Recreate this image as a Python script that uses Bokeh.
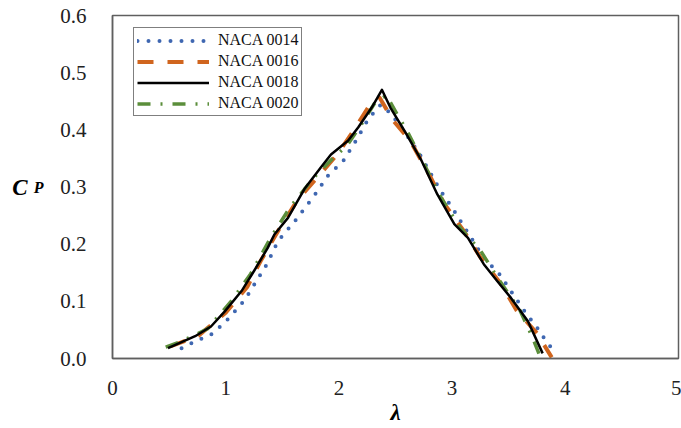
from bokeh.plotting import figure
from bokeh.models import (Range1d, FixedTicker, Legend, LegendItem, Title, LinearAxis,
                          CustomJSTickFormatter)
from bokeh.embed import file_html
from bokeh.resources import INLINE

# ---- data ----
lam14 = [0.61, 0.70, 0.89, 1.03, 1.17, 1.27, 1.37, 1.46, 1.61, 1.79, 1.90, 2.04, 2.15, 2.26, 2.37,
         2.45, 2.53, 2.70, 2.89, 3.01, 3.11, 3.28, 3.42, 3.54, 3.65, 3.77, 3.83, 3.89]
cp14 = [0.018, 0.027, 0.044, 0.071, 0.103, 0.135, 0.167, 0.205, 0.240, 0.287, 0.319, 0.346, 0.381, 0.419, 0.444,
        0.430, 0.410, 0.362, 0.296, 0.261, 0.229, 0.176, 0.147, 0.112, 0.080, 0.049, 0.030, 0.016]

lam16 = [0.51, 0.76, 1.00, 1.19, 1.31, 1.48, 1.63, 1.81, 1.99, 2.13, 2.28, 2.36,
         2.48, 2.63, 2.81, 2.93, 3.10, 3.25, 3.43, 3.57, 3.75, 3.88]
cp16 = [0.021, 0.040, 0.080, 0.125, 0.171, 0.229, 0.276, 0.317, 0.358, 0.399, 0.446, 0.456,
        0.416, 0.381, 0.317, 0.271, 0.224, 0.177, 0.131, 0.084, 0.044, 0.002]

lam18 = [0.49, 0.73, 0.87, 0.99, 1.14, 1.25, 1.37, 1.43, 1.55, 1.70, 1.84, 1.93, 2.08, 2.17, 2.29, 2.38,
         2.46, 2.58, 2.73, 2.87, 3.02, 3.14, 3.28, 3.40, 3.52, 3.67, 3.80]
cp18 = [0.018, 0.039, 0.056, 0.082, 0.118, 0.153, 0.193, 0.217, 0.246, 0.298, 0.334, 0.357, 0.381, 0.404, 0.439, 0.470,
        0.437, 0.398, 0.346, 0.287, 0.235, 0.211, 0.165, 0.135, 0.106, 0.065, 0.009]

lam20 = [0.47, 0.60, 0.84, 1.04, 1.22, 1.40, 1.57, 1.78, 1.94, 2.07, 2.22, 2.32, 2.42,
         2.53, 2.60, 2.75, 2.90, 3.07, 3.25, 3.40, 3.60, 3.71, 3.78]
cp20 = [0.020, 0.029, 0.052, 0.098, 0.148, 0.212, 0.265, 0.317, 0.349, 0.372, 0.416, 0.448, 0.460,
        0.422, 0.399, 0.341, 0.282, 0.229, 0.189, 0.142, 0.084, 0.037, 0.002]

series_names = ["NACA 0014", "NACA 0016", "NACA 0018", "NACA 0020"]
x_ticks = [0, 1, 2, 3, 4, 5]
y_ticks = [0.0, 0.1, 0.2, 0.3, 0.4, 0.5, 0.6]

SERIF = "Liberation Serif"

p = figure(width=681, height=428, output_backend="svg", toolbar_location=None,
           x_range=Range1d(0, 5), y_range=Range1d(0, 0.6),
           min_border_left=112, min_border_right=3, min_border_top=15, min_border_bottom=70)
p.xgrid.visible = False
p.ygrid.visible = False
p.outline_line_color = "#5f5f5f"
p.outline_line_width = 1.5
p.background_fill_color = "white"
p.border_fill_color = "white"

for ax in (p.xaxis[0], p.yaxis[0]):
    ax.axis_line_color = "#5f5f5f"
    ax.axis_line_width = 1.5
    ax.major_tick_line_color = None
    ax.minor_tick_line_color = None
    ax.major_label_text_font = SERIF
    ax.major_label_text_font_size = "21px"
    ax.major_label_text_color = "#222222"

p.xaxis.ticker = FixedTicker(ticks=x_ticks)
p.yaxis.ticker = FixedTicker(ticks=y_ticks)
p.yaxis.formatter = CustomJSTickFormatter(code="return tick.toFixed(1);")
p.xaxis.major_label_standoff = 16
p.yaxis.major_label_standoff = 20

# label-only axes for the y title "C" with subscript "P"
def label_axis(text, size, standoff):
    return LinearAxis(ticker=FixedTicker(ticks=[]), axis_line_color=None,
                      major_tick_line_color=None, minor_tick_line_color=None,
                      major_tick_out=0, major_tick_in=0, minor_tick_out=0, minor_tick_in=0,
                      major_label_standoff=0, axis_label=text,
                      axis_label_orientation="horizontal", axis_label_standoff=standoff,
                      axis_label_text_font=SERIF, axis_label_text_font_size=size,
                      axis_label_text_font_style="bold italic", axis_label_text_color="black")

p.add_layout(label_axis("P", "16px", 14), "left")
p.add_layout(label_axis("C", "23px", 3), "left")

r14 = p.line(lam14, cp14, line_color="#3F67B1", line_width=4, line_dash="0 11", line_cap="round")
r16 = p.line(lam16, cp16, line_color="#D0651E", line_width=4, line_dash="16 14", line_join="round")
r20 = p.line(lam20, cp20, line_color="#5B8E3B", line_width=3.5, line_dash="13 10 2 10", line_join="round")
r18 = p.line(lam18, cp18, line_color="black", line_width=2.5, line_join="round")

legend = Legend(items=[LegendItem(label=series_names[0], renderers=[r14]),
                       LegendItem(label=series_names[1], renderers=[r16]),
                       LegendItem(label=series_names[2], renderers=[r18]),
                       LegendItem(label=series_names[3], renderers=[r20])],
                location=(21, 242), orientation="vertical",
                label_text_font=SERIF, label_text_font_size="16px", label_text_color="#111111",
                glyph_width=72, glyph_height=17, label_height=17, spacing=3, padding=3, margin=0,
                label_standoff=9, border_line_color="black", border_line_width=1,
                background_fill_alpha=1.0)
p.add_layout(legend, "center")

p.add_layout(Title(text="λ", align="center", text_font=SERIF, text_font_size="23px",
                   text_font_style="bold italic", text_color="black", standoff=0, offset=0), "below")

open("out.html", "w").write(file_html(p, INLINE))
